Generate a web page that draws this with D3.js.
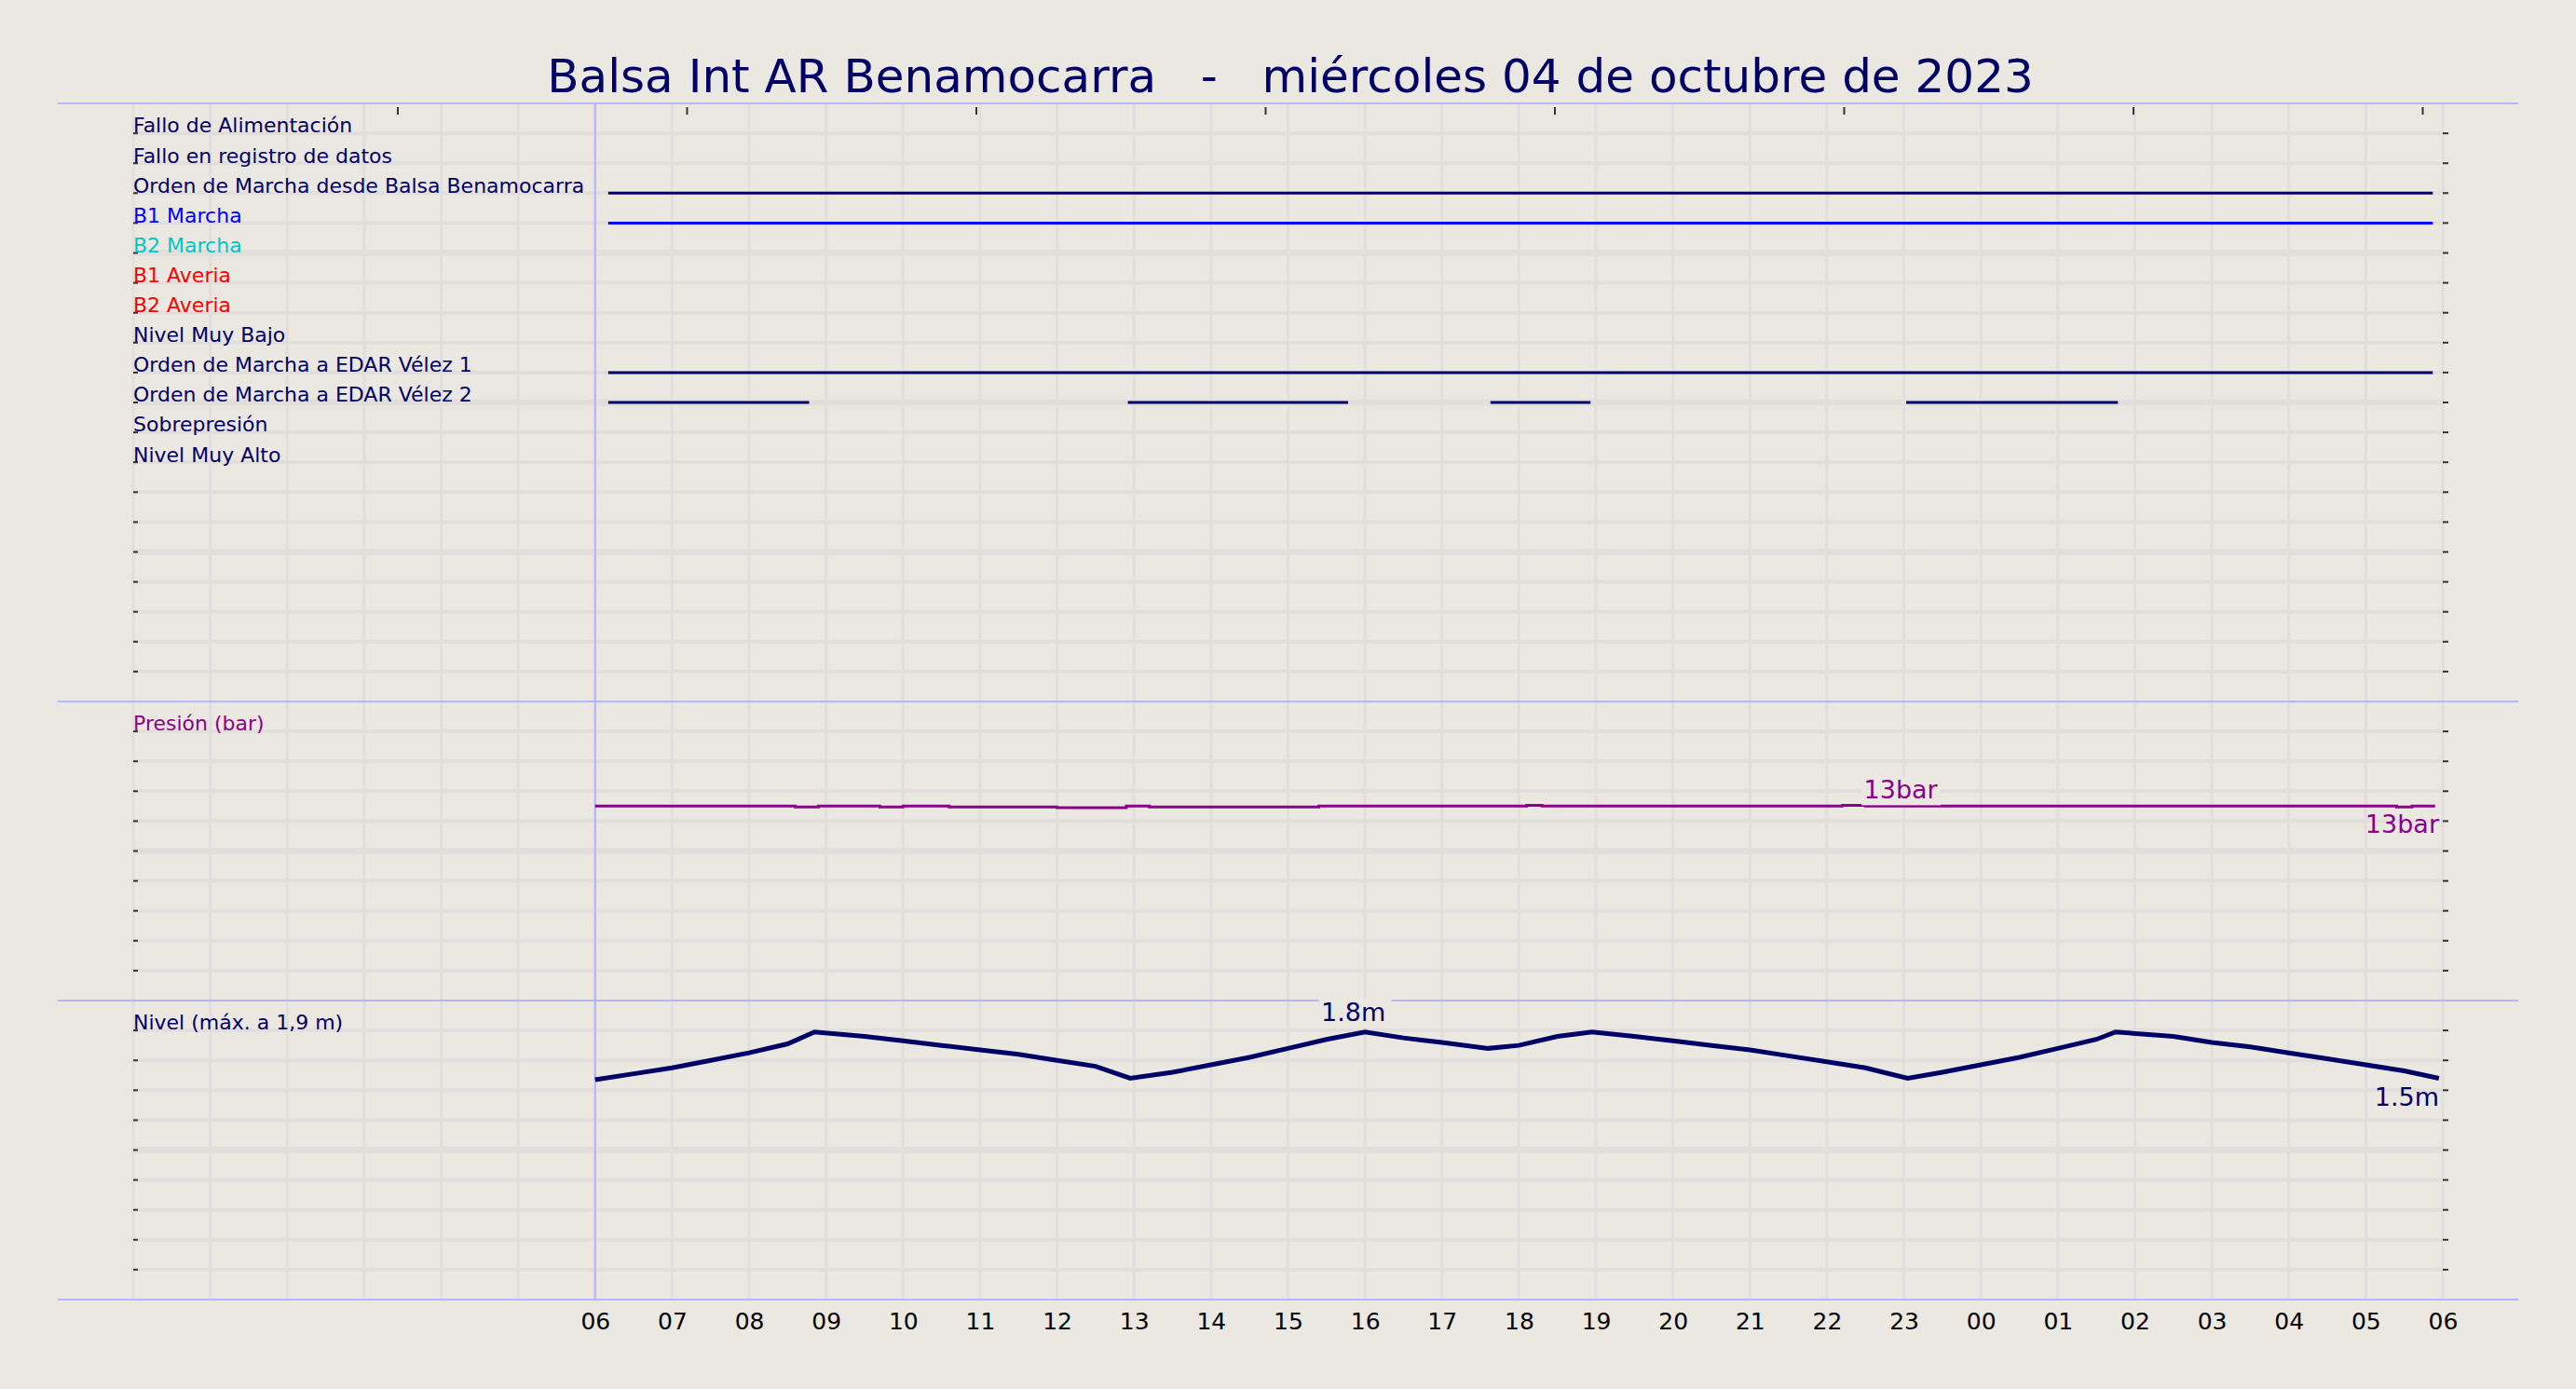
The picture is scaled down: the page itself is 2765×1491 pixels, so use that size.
<!DOCTYPE html>
<html><head><meta charset="utf-8">
<script src="https://d3js.org/d3.v7.min.js"></script>
<style>body{margin:0;background:#ebe7e1}svg{display:block}</style>
</head><body><svg id="c" width="2765" height="1491"></svg>
<script>
const title = "Balsa Int AR Benamocarra   -   miércoles 04 de octubre de 2023";
const signalLabels = ["Fallo de Alimentación","Fallo en registro de datos","Orden de Marcha desde Balsa Benamocarra","B1 Marcha","B2 Marcha","B1 Averia","B2 Averia","Nivel Muy Bajo","Orden de Marcha a EDAR Vélez 1","Orden de Marcha a EDAR Vélez 2","Sobrepresión","Nivel Muy Alto"];
const signalColors = ["#000066","#000066","#000066","#0000ff","#00c8c8","#ff0000","#ff0000","#000066","#000066","#000066","#000066","#000066"];
// active intervals in hours since 00:00 of the chart start (06 = 6)
const signalOn = [[],[],[[6.17,29.87]],[[6.17,29.87]],[],[],[],[],[[6.17,29.87]],[[6.17,8.78],[12.92,15.78],[17.63,18.93],[23.03,25.78]],[],[]];
const xTickLabels = ["06","07","08","09","10","11","12","13","14","15","16","17","18","19","20","21","22","23","00","01","02","03","04","05","06"];
const presionHours = [6,8.6,8.9,9.7,10.0,10.6,11.7,12.0,12.9,13.2,15.1,15.4,18.1,18.3,22.2,22.5,29.4,29.6,29.9];
const presionValues = [13,12.95,13,12.95,13,12.95,12.95,12.9,13,12.95,12.95,13,13.05,13,13.05,13,12.95,13,13];
const nivelHours = [6,6.5,7,7.5,8,8.5,8.85,9.5,10,10.5,11,11.5,12,12.5,12.95,13.5,14,14.5,15,15.5,16,16.5,17,17.6,18,18.5,18.95,19.5,20,20.5,21,21.5,22,22.5,23.05,23.5,24,24.5,25,25.5,25.75,26.5,27,27.5,28,28.5,29,29.5,29.95];
const nivelValues = [1.47,1.51,1.55,1.60,1.65,1.71,1.79,1.76,1.73,1.70,1.67,1.64,1.60,1.56,1.48,1.52,1.57,1.62,1.68,1.74,1.79,1.75,1.72,1.68,1.70,1.76,1.79,1.76,1.73,1.70,1.67,1.63,1.59,1.55,1.48,1.52,1.57,1.62,1.68,1.74,1.79,1.76,1.72,1.69,1.65,1.61,1.57,1.53,1.48];

const svg = d3.select("#c");
const L=143, R=2622, T=111, rowH=32.1;
const x = d3.scaleLinear().domain([0,30]).range([L,R]);
const sec1 = [T, T+20*rowH], sec2=[sec1[1], sec1[1]+10*rowH], sec3=[sec2[1], sec2[1]+10*rowH];
const yP = d3.scaleLinear().domain([0,20]).range([sec2[1],sec2[0]]);
const yN = d3.scaleLinear().domain([0,2]).range([sec3[1],sec3[0]]);
const navy="#000066";

svg.append("rect").attr("width",2765).attr("height",1491).attr("fill","#ebe7e1");
const g=svg.append("g");
const rowsAll=[];
[[sec1,20],[sec2,10],[sec3,10]].forEach(([s,n])=>{for(let i=1;i<n;i++)rowsAll.push({y:s[0]+i*rowH,thick:i%5==0});});
d3.range(0,31).forEach(h=>g.append("line").attr("x1",x(h)).attr("x2",x(h)).attr("y1",T).attr("y2",sec3[1]).attr("stroke","#e2dedc").attr("stroke-width",3));
rowsAll.forEach(r=>{g.append("line").attr("x1",L).attr("x2",R).attr("y1",r.y).attr("y2",r.y).attr("stroke","#e2dedc").attr("stroke-width",r.thick?7:4);
 g.append("line").attr("x1",R).attr("x2",R+6).attr("y1",r.y).attr("y2",r.y).attr("stroke","#333").attr("stroke-width",2);
 g.append("line").attr("x1",L).attr("x2",L+5).attr("y1",r.y).attr("y2",r.y).attr("stroke","#333").attr("stroke-width",2);});
d3.range(0,8).forEach(i=>{const xx=427+i*310.5;g.append("line").attr("x1",xx).attr("x2",xx).attr("y1",T+4).attr("y2",T+12).attr("stroke","#333").attr("stroke-width",2);});
[sec1[0],sec2[0],sec3[0],sec3[1]].forEach(y=>g.append("line").attr("x1",62).attr("x2",2703).attr("y1",y).attr("y2",y).attr("stroke","#b4b4ff").attr("stroke-width",2));
g.append("line").attr("x1",x(6)).attr("x2",x(6)).attr("y1",T).attr("y2",sec3[1]).attr("stroke","#b4b4ff").attr("stroke-width",2);

signalLabels.forEach((lab,i)=>{
  svg.append("text").attr("x",L).attr("y",T+i*rowH+rowH*0.98).attr("font-family","DejaVu Sans").attr("font-size",22).attr("fill",signalColors[i]).text(lab);
  const yy=T+(i+1)*rowH;
  signalOn[i].forEach(([a,b])=>svg.append("line").attr("x1",x(a)).attr("x2",x(b)).attr("y1",yy).attr("y2",yy).attr("stroke",i==3?"#0000ff":navy).attr("stroke-width",3));
});
svg.append("text").attr("x",L).attr("y",sec2[0]+rowH*0.98).attr("font-family","DejaVu Sans").attr("font-size",22).attr("fill","#8b008b").text("Presión (bar)");
svg.append("path").datum(presionHours.map((h,i)=>[h,presionValues[i]])).attr("d",d3.line().x(d=>x(d[0])).y(d=>yP(d[1])).curve(d3.curveStepAfter)).attr("fill","none").attr("stroke","#8b008b").attr("stroke-width",3);
svg.append("rect").attr("x",x(22.45)).attr("y",yP(13)-32).attr("width",85).attr("height",31).attr("fill","#ebe7e1");
svg.append("text").attr("x",x(22.45)+42).attr("y",yP(13)-8).attr("text-anchor","middle").attr("font-family","DejaVu Sans").attr("font-size",27).attr("fill","#8b008b").text("13bar");
svg.append("text").attr("x",R-4).attr("y",yP(13)+29).attr("text-anchor","end").attr("font-family","DejaVu Sans").attr("font-size",27).attr("fill","#8b008b").text("13bar");
svg.append("text").attr("x",L).attr("y",sec3[0]+rowH*0.98).attr("font-family","DejaVu Sans").attr("font-size",22).attr("fill",navy).text("Nivel (máx. a 1,9 m)");
svg.append("path").datum(nivelHours.map((h,i)=>[h,nivelValues[i]])).attr("d",d3.line().x(d=>x(d[0])).y(d=>yN(d[1]))).attr("fill","none").attr("stroke",navy).attr("stroke-width",5);
svg.append("rect").attr("x",x(15.4)).attr("y",yN(1.8)-34).attr("width",78).attr("height",31).attr("fill","#ebe7e1");
svg.append("text").attr("x",x(15.85)).attr("y",yN(1.8)-10).attr("text-anchor","middle").attr("font-family","DejaVu Sans").attr("font-size",27).attr("fill",navy).text("1.8m");
svg.append("text").attr("x",R-4).attr("y",yN(1.48)+30).attr("text-anchor","end").attr("font-family","DejaVu Sans").attr("font-size",27).attr("fill",navy).text("1.5m");
const xa=d3.axisBottom(x).tickValues(d3.range(6,31)).tickFormat((d,i)=>xTickLabels[i]).tickSize(0).tickPadding(14);
const ax=svg.append("g").attr("transform",`translate(0,${sec3[1]})`).call(xa);
ax.select(".domain").remove();
ax.selectAll("text").attr("font-family","DejaVu Sans").attr("font-size",25).attr("fill","#000");
svg.append("text").attr("x",1385).attr("y",99).attr("text-anchor","middle").attr("font-family","DejaVu Sans").attr("font-size",50).attr("fill",navy).attr("xml:space","preserve").style("white-space","pre").text(title);
</script></body></html>
